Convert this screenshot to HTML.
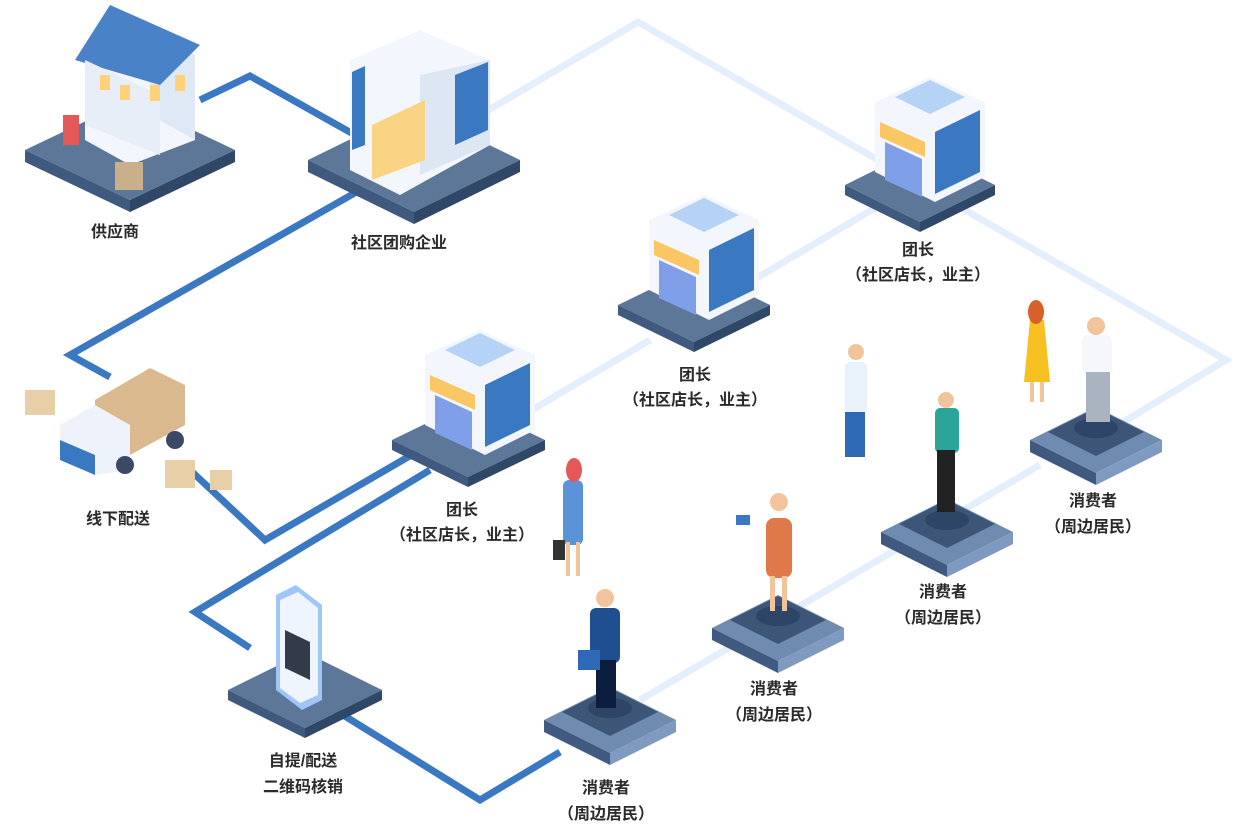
<!DOCTYPE html>
<html><head><meta charset="utf-8"><style>
body{margin:0;background:#fff}
svg text{font-family:"Liberation Sans","Noto Sans CJK SC",sans-serif;font-size:16px;fill:#2a2a2a;text-anchor:middle;font-weight:bold}
</style></head><body>
<svg width="1234" height="825" viewBox="0 0 1234 825" xmlns="http://www.w3.org/2000/svg">
<g stroke="#e4effb" stroke-width="7" fill="none">
<polyline points="480,115 638,22 1226,360 1110,430"/>
<line x1="515" y1="420" x2="650" y2="340"/>
<line x1="745" y1="285" x2="880" y2="205"/>
<line x1="640" y1="700" x2="1040" y2="465"/>
</g>
<g stroke="#3b78c2" stroke-width="7" fill="none">
<polyline points="200,100 250,76 355,135"/>
<polyline points="360,190 70,355 110,377"/>
<polyline points="190,470 265,540 420,450"/>
<polyline points="430,470 195,612 250,648"/>
<polyline points="335,710 480,800 560,752"/>
</g>
<g>
<polygon points="25,150 130,100 235,150 130,200" fill="#5d7799"/><polygon points="25,150 130,200 130,212 25,162" fill="#3f5a7e"/><polygon points="235,150 130,200 130,212 235,162" fill="#2f4868"/>
<polygon points="308,160 414,108 520,160 414,212" fill="#5d7799"/><polygon points="308,160 414,212 414,224 308,172" fill="#3f5a7e"/><polygon points="520,160 414,212 414,224 520,172" fill="#2f4868"/>
<polygon points="845,185 920,148 995,185 920,222" fill="#5d7799"/><polygon points="845,185 920,222 920,232 845,195" fill="#3f5a7e"/><polygon points="995,185 920,222 920,232 995,195" fill="#2f4868"/>
<polygon points="618,305 694,268 770,305 694,342" fill="#5d7799"/><polygon points="618,305 694,342 694,352 618,315" fill="#3f5a7e"/><polygon points="770,305 694,342 694,352 770,315" fill="#2f4868"/>
<polygon points="392,440 468,403 545,440 468,477" fill="#5d7799"/><polygon points="392,440 468,477 468,487 392,450" fill="#3f5a7e"/><polygon points="545,440 468,477 468,487 545,450" fill="#2f4868"/>
<polygon points="228,690 305,652 382,690 305,728" fill="#5d7799"/><polygon points="228,690 305,728 305,738 228,700" fill="#3f5a7e"/><polygon points="382,690 305,728 305,738 382,700" fill="#2f4868"/>
</g>
<g>
<g transform="translate(610,720)"><polygon points="-66,0 0,-33 66,0 0,33" fill="#6f8bb0"/><polygon points="-66,0 0,33 0,45 -66,12" fill="#3f5a7e"/><polygon points="66,0 0,33 0,45 66,12" fill="#7f9ac0"/><polygon points="-48,-8 0,-32 48,-8 0,16" fill="#3d5678"/><ellipse cx="0" cy="-12" rx="22" ry="10" fill="#2d4566"/></g>
<g transform="translate(778,628)"><polygon points="-66,0 0,-33 66,0 0,33" fill="#6f8bb0"/><polygon points="-66,0 0,33 0,45 -66,12" fill="#3f5a7e"/><polygon points="66,0 0,33 0,45 66,12" fill="#7f9ac0"/><polygon points="-48,-8 0,-32 48,-8 0,16" fill="#3d5678"/><ellipse cx="0" cy="-12" rx="22" ry="10" fill="#2d4566"/></g>
<g transform="translate(947,532)"><polygon points="-66,0 0,-33 66,0 0,33" fill="#6f8bb0"/><polygon points="-66,0 0,33 0,45 -66,12" fill="#3f5a7e"/><polygon points="66,0 0,33 0,45 66,12" fill="#7f9ac0"/><polygon points="-48,-8 0,-32 48,-8 0,16" fill="#3d5678"/><ellipse cx="0" cy="-12" rx="22" ry="10" fill="#2d4566"/></g>
<g transform="translate(1096,440)"><polygon points="-66,0 0,-33 66,0 0,33" fill="#6f8bb0"/><polygon points="-66,0 0,33 0,45 -66,12" fill="#3f5a7e"/><polygon points="66,0 0,33 0,45 66,12" fill="#7f9ac0"/><polygon points="-48,-8 0,-32 48,-8 0,16" fill="#3d5678"/><ellipse cx="0" cy="-12" rx="22" ry="10" fill="#2d4566"/></g>
</g>
<polygon points="85,60 150,30 195,55 195,140 130,165 85,140" fill="#f3f7fd"/>
<polygon points="150,30 195,55 195,140 150,115" fill="#dfe8f5"/>
<polygon points="75,60 110,5 200,45 160,85" fill="#4a82c8"/>
<polygon points="85,60 160,95 160,155 85,125" fill="#e8eef8"/>
<rect x="100" y="75" width="10" height="15" fill="#ffd27a"/><rect x="120" y="85" width="10" height="15" fill="#ffd27a"/>
<rect x="150" y="85" width="10" height="16" fill="#ffd27a"/><rect x="175" y="75" width="10" height="16" fill="#ffd27a"/>
<rect x="63" y="115" width="16" height="30" fill="#e45858"/><rect x="115" y="162" width="28" height="28" fill="#c9b08a"/>
<polygon points="350,60 420,30 490,60 490,145 400,195 350,170" fill="#f3f7fd"/>
<polygon points="420,75 490,60 490,145 420,175" fill="#dde6f3"/>
<polygon points="455,75 488,62 488,130 455,145" fill="#3b78c2"/>
<polygon points="372,125 425,100 425,160 372,180" fill="#fbd384"/>
<polygon points="352,72 365,66 365,145 352,150" fill="#3b78c2"/>
<g transform="translate(480,425)">
<polygon points="-55,-70 0,-95 55,-70 55,5 5,30 -55,0" fill="#f3f7fd"/><polygon points="-35,-75 0,-92 35,-75 0,-58" fill="#b5d3f7"/><polygon points="5,-40 50,-62 50,0 5,22" fill="#3b78c2"/><polygon points="-50,-50 -5,-30 -5,-15 -50,-35" fill="#fbc764"/><polygon points="-45,-30 -8,-13 -8,25 -45,8" fill="#7fa0e8"/>
</g>
<g transform="translate(704,290)">
<polygon points="-55,-70 0,-95 55,-70 55,5 5,30 -55,0" fill="#f3f7fd"/><polygon points="-35,-75 0,-92 35,-75 0,-58" fill="#b5d3f7"/><polygon points="5,-40 50,-62 50,0 5,22" fill="#3b78c2"/><polygon points="-50,-50 -5,-30 -5,-15 -50,-35" fill="#fbc764"/><polygon points="-45,-30 -8,-13 -8,25 -45,8" fill="#7fa0e8"/>
</g>
<g transform="translate(930,172)">
<polygon points="-55,-70 0,-95 55,-70 55,5 5,30 -55,0" fill="#f3f7fd"/><polygon points="-35,-75 0,-92 35,-75 0,-58" fill="#b5d3f7"/><polygon points="5,-40 50,-62 50,0 5,22" fill="#3b78c2"/><polygon points="-50,-50 -5,-30 -5,-15 -50,-35" fill="#fbc764"/><polygon points="-45,-30 -8,-13 -8,25 -45,8" fill="#7fa0e8"/>
</g>
<polygon points="276,595 296,585 322,605 322,700 302,710 276,690" fill="#9fc6f7"/>
<polygon points="280,600 298,592 318,608 318,695 300,703 280,688" fill="#eef5ff"/>
<polygon points="285,630 310,642 310,680 285,668" fill="#333a4a"/>
<polygon points="95,400 150,368 185,385 185,425 130,455 95,438" fill="#d9b98d"/>
<polygon points="60,425 95,405 130,425 130,470 95,475 60,450" fill="#eef3fb"/>
<polygon points="60,440 95,455 95,475 60,460" fill="#3b78c2"/>
<circle cx="125" cy="465" r="9" fill="#3a4a66"/><circle cx="175" cy="440" r="9" fill="#3a4a66"/>
<rect x="25" y="390" width="30" height="25" fill="#e9cfa7"/><rect x="165" y="460" width="30" height="28" fill="#e9cfa7"/><rect x="210" y="470" width="22" height="20" fill="#e9cfa7"/>
<g fill="#1f4f90"><rect x="590" y="608" width="30" height="55" rx="6"/><rect x="596" y="660" width="20" height="48" fill="#0c1d3d"/><circle cx="605" cy="598" r="9" fill="#f1c49c"/><rect x="578" y="650" width="22" height="20" fill="#2e69b5"/></g>
<g><rect x="766" y="518" width="26" height="60" rx="8" fill="#e0794a"/><circle cx="779" cy="502" r="9" fill="#f1c49c"/><rect x="770" y="576" width="5" height="35" fill="#f1c49c"/><rect x="782" y="576" width="5" height="35" fill="#f1c49c"/><rect x="736" y="515" width="14" height="10" fill="#3b78c2"/></g>
<g><rect x="935" y="408" width="24" height="45" rx="5" fill="#2aa59a"/><circle cx="946" cy="400" r="8" fill="#f1c49c"/><rect x="937" y="450" width="18" height="62" fill="#222"/></g>
<g><rect x="845" y="362" width="22" height="52" rx="5" fill="#e9f1fa"/><circle cx="856" cy="352" r="8" fill="#f1c49c"/><rect x="845" y="412" width="20" height="45" fill="#2e69b5"/></g>
<g><rect x="1082" y="335" width="30" height="40" rx="6" fill="#f5f7fb"/><circle cx="1096" cy="326" r="9" fill="#f1c49c"/><rect x="1086" y="372" width="24" height="50" fill="#aab3c0"/></g>
<g><polygon points="1030,320 1044,320 1050,382 1024,382" fill="#f5c020"/><ellipse cx="1036" cy="312" rx="8" ry="12" fill="#d8602a"/><rect x="1030" y="382" width="4" height="20" fill="#f1c49c"/><rect x="1040" y="382" width="4" height="20" fill="#f1c49c"/></g>
<g><rect x="563" y="480" width="20" height="65" rx="6" fill="#5a93d8"/><ellipse cx="574" cy="470" rx="8" ry="12" fill="#e45858"/><rect x="566" y="542" width="4" height="34" fill="#f1c49c"/><rect x="576" y="542" width="4" height="34" fill="#f1c49c"/><rect x="553" y="540" width="12" height="20" fill="#333"/></g>
<text x="115" y="237">供应商</text>
<text x="399" y="248">社区团购企业</text>
<text x="118" y="524">线下配送</text>
<text x="918" y="255">团长</text><text x="918" y="280">（社区店长，业主）</text>
<text x="695" y="380">团长</text><text x="695" y="405">（社区店长，业主）</text>
<text x="462" y="515">团长</text><text x="462" y="540">（社区店长，业主）</text>
<text x="303" y="766">自提/配送</text><text x="303" y="792">二维码核销</text>
<text x="606" y="793">消费者</text><text x="606" y="819">（周边居民）</text>
<text x="774" y="694">消费者</text><text x="774" y="720">（周边居民）</text>
<text x="943" y="597">消费者</text><text x="943" y="623">（周边居民）</text>
<text x="1093" y="506">消费者</text><text x="1093" y="532">（周边居民）</text>
</svg>
</body></html>
